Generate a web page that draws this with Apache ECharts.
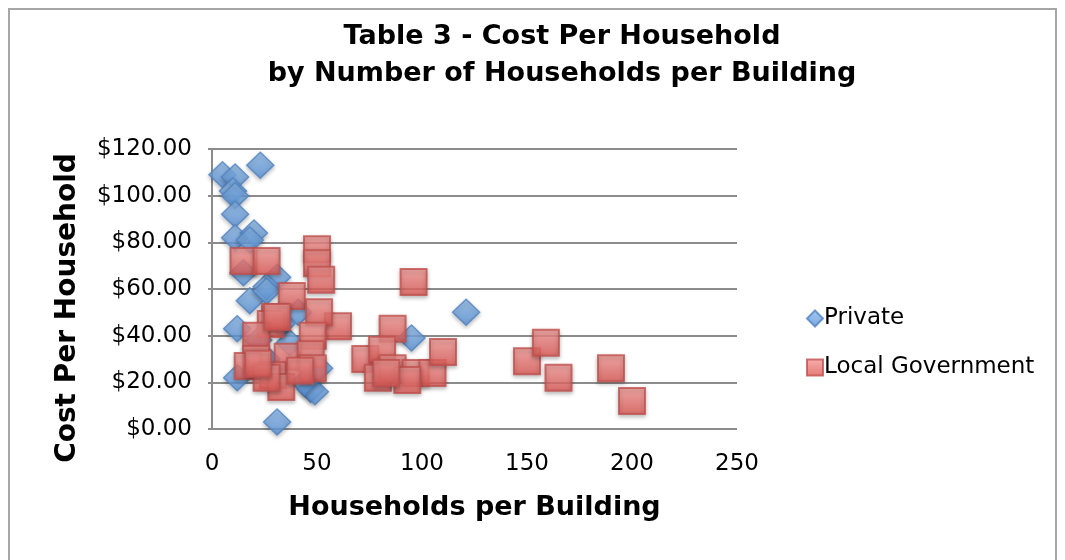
<!DOCTYPE html>
<html>
<head>
<meta charset="utf-8">
<script src="https://cdn.jsdelivr.net/npm/echarts@6/dist/echarts.min.js"></script>
<style>
  html, body { margin: 0; padding: 0; background: #fff; }
  #frame { position: absolute; left: 8px; top: 8px; width: 1049px; height: 560px; border: 2px solid #a6a6a6; box-sizing: border-box; }
  #chart { width: 1065px; height: 560px; position: absolute; left: 0; top: 0; }
</style>
</head>
<body>
<div id="frame"></div>
<div id="chart"></div>
<script>
// households per building / cost per household
const privateX = [5, 11, 23, 10, 11, 11, 11, 20, 18, 15, 31, 26, 18, 26, 41, 12, 37, 12, 31, 47, 49, 51, 95, 121, 26, 44, 22, 33]
const privateY = [109, 108, 113, 102, 100, 92, 82, 84, 81, 67, 65, 61, 55, 59, 50, 43, 37, 22, 3, 17, 16, 26, 39, 50, 30, 20, 38, 45]

const govX = [15, 26, 50, 50, 52, 38, 96, 60, 86, 51, 30, 48, 28, 21, 21, 17, 36, 47, 48, 29, 33, 42, 26, 31, 22,
  73, 81, 79, 86, 97, 105, 110, 93, 83, 150, 159, 165, 190, 200]
const govY = [72, 72, 77, 71, 64, 57, 63, 44, 43, 50, 48, 40, 45, 40, 30, 27, 31, 32, 26, 23, 18, 25, 22, 48, 28,
  30, 34, 22, 26, 24, 24, 33, 21, 24, 29, 37, 22, 26, 12]

const xTicks = [0, 250, 50]   // min, max, interval
const yTicks = [0, 120, 20]

const chart = echarts.init(document.getElementById('chart'))

const txt = 'DejaVu Sans, sans-serif'

chart.setOption({
  animation: false,
  textStyle: { fontFamily: txt },
  title: {
    text: 'Table 3 - Cost Per Household\nby Number of Households per Building',
    left: 557,
    textAlign: 'center',
    top: 13,
    textStyle: { fontSize: 27, fontWeight: 'bold', color: '#000', lineHeight: 37, fontFamily: txt }
  },
  legend: {
    orient: 'vertical',
    left: 801,
    top: 302,
    itemGap: 26,
    itemWidth: 16,
    itemHeight: 16,
    textStyle: { fontSize: 23, color: '#000', fontFamily: txt, padding: [0, 0, 0, -4] },
    data: [
      { name: 'Private', icon: 'diamond' },
      { name: 'Local Government', icon: 'rect' }
    ]
  },
  grid: { left: 212, right: 328, top: 149, bottom: 131 },
  xAxis: {
    type: 'value',
    min: xTicks[0], max: xTicks[1], interval: xTicks[2],
    name: 'Households per Building',
    nameLocation: 'middle',
    nameGap: 65,
    nameTextStyle: { fontSize: 27, fontWeight: 'bold', color: '#000', fontFamily: txt },
    axisLine: { show: false },
    axisTick: { show: false },
    splitLine: { show: false },
    axisLabel: { fontSize: 23, color: '#000', margin: 24, fontFamily: txt }
  },
  yAxis: {
    type: 'value',
    min: yTicks[0], max: yTicks[1], interval: yTicks[2],
    name: 'Cost Per Household',
    nameLocation: 'middle',
    nameGap: 130,
    nameRotate: 90,
    nameTextStyle: { fontSize: 28, fontWeight: 'bold', color: '#000', fontFamily: txt, padding: [0, 38, 0, 0] },
    axisLine: { show: true, lineStyle: { color: '#8c8c8c', width: 2 } },
    axisTick: { show: true, length: 4, lineStyle: { color: '#8c8c8c', width: 2 } },
    splitLine: { show: true, lineStyle: { color: '#8c8c8c', width: 2 } },
    axisLabel: {
      fontSize: 23, color: '#000', margin: 20, fontFamily: txt,
      formatter: v => '$' + v.toFixed(2)
    }
  },
  series: [
    {
      name: 'Private',
      type: 'scatter',
      symbol: 'diamond',
      symbolSize: [27, 26],
      z: 2,
      data: privateX.map((x, i) => [x, privateY[i]]),
      itemStyle: {
        color: new echarts.graphic.LinearGradient(0, 0, 0, 1, [
          { offset: 0, color: '#8fbcec' },
          { offset: 1, color: '#5891d6' }
        ]),
        borderColor: '#4f83c4',
        borderWidth: 1.5,
        shadowColor: 'rgba(0,0,0,0.3)',
        shadowBlur: 4,
        shadowOffsetY: 2
      }
    },
    {
      name: 'Local Government',
      type: 'scatter',
      symbol: 'rect',
      symbolSize: 26,
      z: 3,
      data: govX.map((x, i) => [x, govY[i]]),
      itemStyle: {
        color: new echarts.graphic.LinearGradient(0, 0, 0, 1, [
          { offset: 0, color: '#f59c99' },
          { offset: 1, color: '#dd5753' }
        ]),
        borderColor: '#c0504d',
        borderWidth: 2,
        shadowColor: 'rgba(0,0,0,0.3)',
        shadowBlur: 4,
        shadowOffsetY: 2
      }
    }
  ]
})
</script>
</body>
</html>
